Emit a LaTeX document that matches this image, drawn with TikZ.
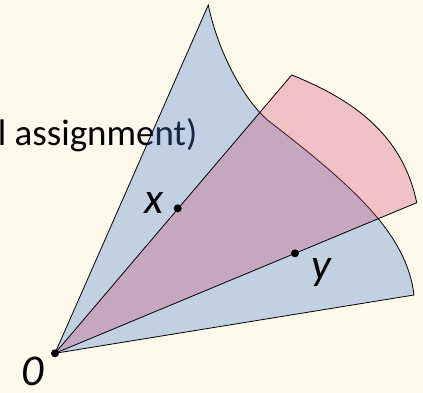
\documentclass[tikz,border=0pt]{standalone}
\usepackage{fontspec}
\setmainfont{Carlito}
\usetikzlibrary{positioning}
\definecolor{cream}{RGB}{253,249,235}
\definecolor{coneblue}{RGB}{70,125,210}
\definecolor{conepink}{RGB}{210,70,115}

\begin{document}
\begin{tikzpicture}[x=1pt,y=-1pt,
    dot/.style={circle,fill=black,minimum size=8pt,inner sep=0},
    lbl/.style={font=\fontsize{44}{48}\selectfont\itshape,inner sep=0}]
  \useasboundingbox[fill=cream] (0,0) rectangle (423,393);
  % caption text, partly under the cones
  \node[anchor=base west,inner sep=0,font=\fontsize{37}{42}\selectfont] (caption) at (-2.4,146) {l assignment)};
  % apex of both cones
  \coordinate (O) at (55,353.3);
  % blue cone
  \draw[line width=0.8pt,fill=coneblue,fill opacity=0.32] (O) -- (208.3,5)
    .. controls (218.3,54) and (246.3,103.7) .. (270,122)
    .. controls (357,189) and (406.8,235.6) .. (414,295) -- cycle;
  % pink cone
  \draw[line width=0.8pt,fill=conepink,fill opacity=0.3] (O) -- (291.7,75)
    .. controls (354.9,100.2) and (403.1,136.1) .. (416.7,202.7) -- cycle;
  % points and labels
  \node[dot] (Odot) at (O) {};
  \node[dot] (X) at (177.7,208.3) {};
  \node[dot] (Y) at (295,253.3) {};
  \node[lbl] (xlab) at (154,202.5) {x};
  \node[lbl] (ylab) at (321,273) {y};
  \node[lbl] (olab) at (32.5,371.5) {0};
\end{tikzpicture}
\end{document}
